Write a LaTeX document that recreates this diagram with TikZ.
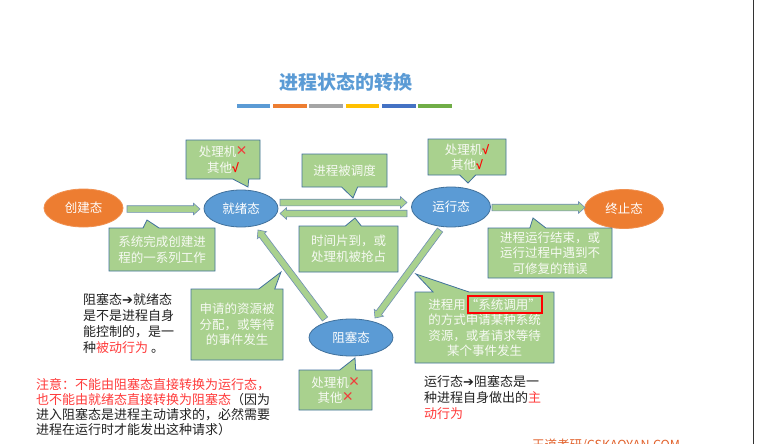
\documentclass[tikz,border=0pt]{standalone}
\usepackage{fontspec}
\setmainfont{Noto Sans CJK SC}
\newfontfamily\dejavu{DejaVu Sans}
\newfontfamily\libsans{Liberation Sans}
\usetikzlibrary{shapes.geometric, shapes.callouts, calc}

\definecolor{procblue}{HTML}{5B9BD5}
\definecolor{procline}{HTML}{41719C}
\definecolor{procorange}{HTML}{ED7D31}
\definecolor{notegreen}{HTML}{A9D18E}
\definecolor{notetext}{HTML}{F7FAF3}
\definecolor{arrline}{HTML}{6F8FB5}
\definecolor{markred}{HTML}{FF0000}
\definecolor{crossred}{HTML}{F03C3C}
\definecolor{warnred}{HTML}{FF3B3B}
\definecolor{inktext}{HTML}{222222}
\definecolor{marktext}{HTML}{E2622C}
\definecolor{barblue}{HTML}{5B9BD5}
\definecolor{barorange}{HTML}{ED7D31}
\definecolor{bargray}{HTML}{A5A5A5}
\definecolor{baryellow}{HTML}{FFC000}
\definecolor{bardarkblue}{HTML}{4472C4}
\definecolor{bargreen}{HTML}{70AD47}

\newcommand{\nomark}{{\color{crossred}\libsans\fontsize{18pt}{15pt}\selectfont ×}}
\newcommand{\okmark}{{\color{markred}\libsans\bfseries √}}
% block arrow from #1 to #2
\newcommand{\blockarrow}[2]{%
  \coordinate (ba-neck) at ($(#2)!6.5pt!(#1)$);
  \filldraw[blockarr]
    ($(#1)!3.3pt!90:(#2)$) -- ($(ba-neck)!3.3pt!90:(#2)$) -- ($(ba-neck)!5.8pt!90:(#2)$)
    -- (#2) -- ($(ba-neck)!5.8pt!-90:(#2)$) -- ($(ba-neck)!3.3pt!-90:(#2)$)
    -- ($(#1)!3.3pt!-90:(#2)$) -- cycle;}

\begin{document}
\begin{tikzpicture}[x=1pt, y=-1pt,
    procnode/.style={ellipse, inner sep=0pt, text=white, font=\fontsize{12.5pt}{15pt}\selectfont, line width=0.8pt},
    procb/.style={procnode, fill=procblue, draw=procline},
    proco/.style={procnode, fill=procorange, draw=procorange!85!white},
    notebox/.style={rectangle callout, fill=notegreen, draw=procline, line width=0.8pt, text=notetext,
        inner sep=0pt, align=center, callout pointer width=16pt, font=\fontsize{12.5pt}{15.5pt}\selectfont},
    plaintext/.style={anchor=north west, inner sep=0pt, align=left, text=inktext},
    blockarr/.style={fill=notegreen, draw=arrline, line width=0.6pt}]
    \useasboundingbox (0,0) rectangle (769,444);
    \fill[white] (0,0) rectangle (769,444);

    \node[text=procblue, font=\bfseries\fontsize{19pt}{22pt}\selectfont] (title) at (346,82) {进程状态的转换};
    \foreach \c [count=\i] in {barblue,barorange,bargray,baryellow,bardarkblue,bargreen}
        \fill[\c] (200.5+36.3*\i,104) rectangle ++(33.5,3.7);

    \node[proco, minimum width=79pt, minimum height=38pt] at (83.5,208) (cj) {创建态};
    \node[procb, minimum width=74pt, minimum height=37pt] at (241,208.5) (jx) {就绪态};
    \node[procb, minimum width=79pt, minimum height=40pt] at (451,207) (yx) {运行态};
    \node[proco, minimum width=79pt, minimum height=39pt] at (624,209) (zz) {终止态};
    \node[procb, minimum width=84pt, minimum height=37pt] at (351,337.5) (zs) {阻塞态};

    \coordinate (cj-out) at (127,209);   \coordinate (jx-in) at (200,209);
    \coordinate (jx-out) at (280,202.5); \coordinate (yx-in) at (407,202.5);
    \coordinate (yx-back) at (407,213.5); \coordinate (jx-back) at (280,213.5);
    \coordinate (yx-out) at (492,207.5); \coordinate (zz-in) at (585,207.5);
    \coordinate (zs-out) at (325,319);   \coordinate (jx-wake) at (258,230);
    \coordinate (yx-down) at (440,230);  \coordinate (zs-in) at (375,318);

    \blockarrow{cj-out}{jx-in}
    \blockarrow{jx-out}{yx-in}
    \blockarrow{yx-back}{jx-back}
    \blockarrow{yx-out}{zz-in}
    \blockarrow{zs-out}{jx-wake}
    \blockarrow{yx-down}{zs-in}

    \node[notebox, minimum width=74pt, minimum height=39pt, callout absolute pointer={(248,187)}] at (223,159.5) (jxnote) {处理机\nomark\\其他\okmark};
    \node[notebox, minimum width=85pt, minimum height=33pt, callout absolute pointer={(353,198)}] at (344.5,170.5) (schednote) {进程被调度};
    \node[notebox, minimum width=106pt, minimum height=43pt, callout absolute pointer={(147,220)}] at (162,249.5) (cjnote) {系统完成创建进\\程的一系列工作};
    \node[notebox, minimum width=99pt, minimum height=46pt, callout absolute pointer={(355,218)}] at (348.5,249) (slicenote) {时间片到，或\\处理机被抢占};
    \node[notebox, minimum width=78pt, minimum height=36pt, callout absolute pointer={(468,183)}] at (467,157) (yxnote) {处理机\okmark\\其他\okmark};
    \node[notebox, minimum width=124pt, minimum height=50pt, callout absolute pointer={(533,218)}] at (550,253) (endnote) {进程运行结束，或\\运行过程中遇到不\\可修复的错误};
    \node[notebox, minimum width=92pt, minimum height=71pt, callout absolute pointer={(281,272)}] at (237,324.5) (wakenote) {申请的资源被\\分配，或等待\\的事件发生};
    \node[notebox, minimum width=73pt, minimum height=40pt, callout absolute pointer={(355,358)}] at (335.5,390) (zsnote) {处理机\nomark\\其他\nomark};
    \node[notebox, minimum width=139pt, minimum height=71pt, callout pointer width=36pt, callout absolute pointer={(416,274)}] at (484.5,327.5) (callnote) {进程用“系统调用”\\的方式申请某种系统\\资源，或者请求等待\\某个事件发生};
    \node[draw=markred, line width=1.4pt, minimum width=74pt, minimum height=17pt, inner sep=0pt] at (505,304.5) (callbox) {};

    \node[plaintext, font=\fontsize{13pt}{16pt}\selectfont] at (83,293) (passive) {阻塞态{\dejavu ➔}就绪态\\是不是进程自身\\能控制的，是一\\种\textcolor{warnred}{被动行为} 。};
    \node[plaintext, font=\fontsize{13pt}{15pt}\selectfont] at (36,378) (warn) {\textcolor{warnred}{注意：不能由阻塞态直接转换为运行态，}\\\textcolor{warnred}{也不能由就绪态直接转换为阻塞态}（因为\\进入阻塞态是进程主动请求的，必然需要\\进程在运行时才能发出这种请求）};
    \node[plaintext, font=\fontsize{13pt}{16pt}\selectfont] at (424,375) (active) {运行态{\dejavu ➔}阻塞态是一\\种进程自身做出的\textcolor{warnred}{主}\\\textcolor{warnred}{动行为}};

    \node[plaintext, text=marktext, font=\fontsize{12.5pt}{14pt}\selectfont] at (532,439) (mark) {王道考研/CSKAOYAN.COM};
    \draw[black!80, line width=1pt] (753,0) -- (753,444);
\end{tikzpicture}
\end{document}
